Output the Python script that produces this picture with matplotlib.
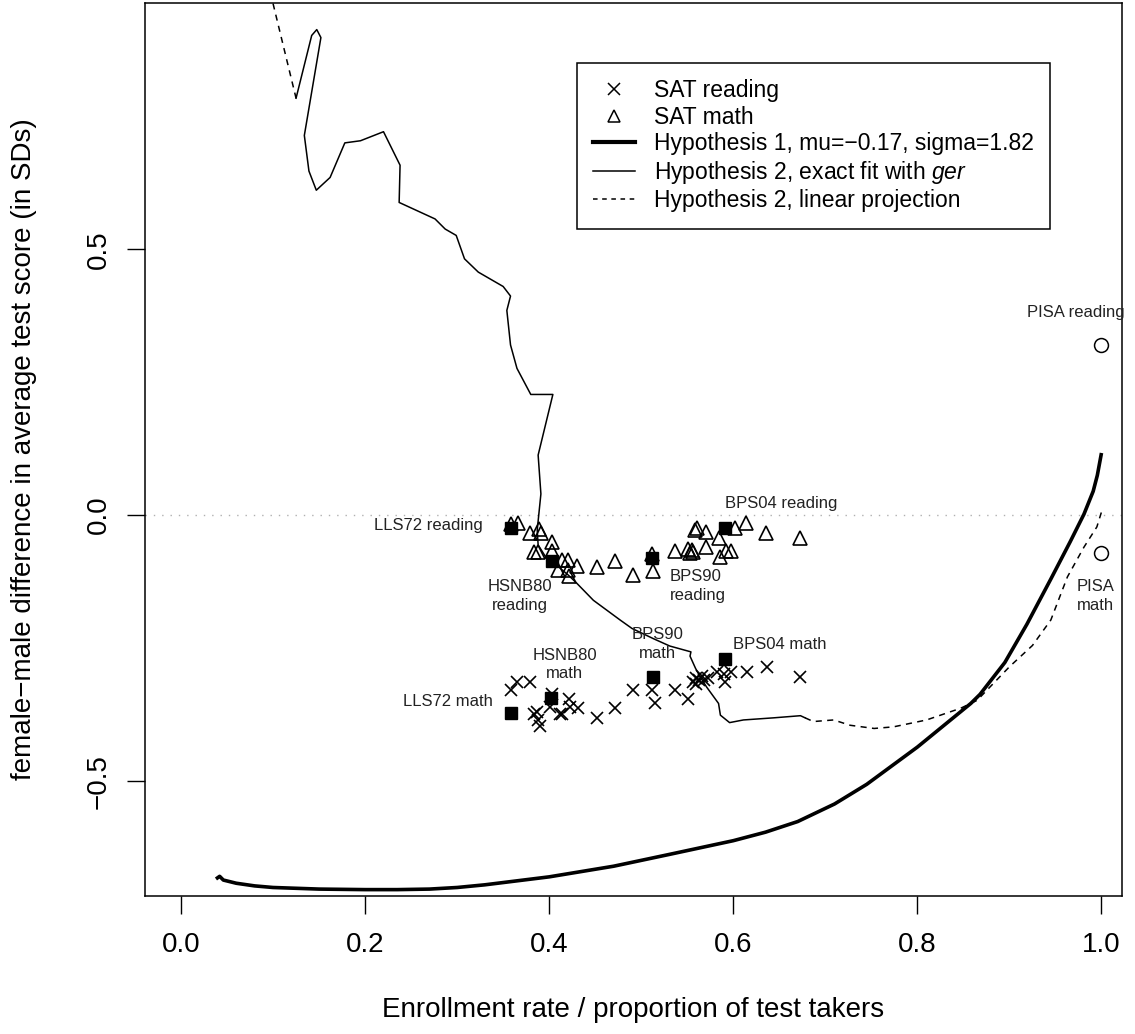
import matplotlib
matplotlib.use("Agg")
import matplotlib.pyplot as plt
from matplotlib.lines import Line2D

plt.rcParams['font.family'] = ['Liberation Sans', 'DejaVu Sans']
plt.rcParams['mathtext.fontset'] = 'custom'
plt.rcParams['mathtext.it'] = 'Liberation Sans:italic'
plt.rcParams['mathtext.rm'] = 'Liberation Sans'

# SAT math (open triangles)
tri_x = [0.359, 0.366, 0.379, 0.389, 0.391, 0.403, 0.383, 0.388, 0.403, 0.414,
         0.420, 0.430, 0.410, 0.420, 0.421, 0.452, 0.472, 0.491, 0.512, 0.513,
         0.537, 0.551, 0.555, 0.556, 0.553, 0.570, 0.558, 0.561, 0.570, 0.584,
         0.586, 0.592, 0.597, 0.602, 0.614, 0.636, 0.673]
tri_y = [-0.016, -0.015, -0.034, -0.026, -0.034, -0.051, -0.070, -0.070, -0.068, -0.085,
         -0.085, -0.096, -0.103, -0.103, -0.115, -0.098, -0.086, -0.113, -0.073, -0.105,
         -0.068, -0.063, -0.066, -0.070, -0.072, -0.060, -0.028, -0.024, -0.031, -0.043,
         -0.078, -0.068, -0.068, -0.025, -0.014, -0.033, -0.042]

# SAT reading (crosses)
crs_x = [0.358, 0.365, 0.379, 0.383, 0.387, 0.388, 0.390, 0.401, 0.403, 0.421,
         0.412, 0.414, 0.423, 0.431, 0.452, 0.472, 0.491, 0.512, 0.515, 0.537,
         0.551, 0.556, 0.560, 0.563, 0.566, 0.568, 0.572, 0.560, 0.582, 0.590,
         0.591, 0.598, 0.615, 0.637, 0.673]
crs_y = [-0.329, -0.313, -0.313, -0.373, -0.370, -0.385, -0.397, -0.360, -0.336, -0.346,
         -0.373, -0.373, -0.360, -0.363, -0.382, -0.363, -0.329, -0.329, -0.354, -0.329,
         -0.346, -0.313, -0.306, -0.310, -0.303, -0.309, -0.306, -0.318, -0.294, -0.298,
         -0.313, -0.294, -0.294, -0.285, -0.304]

# survey points (filled squares)
sq_x = [0.359, 0.403, 0.512, 0.591, 0.359, 0.402, 0.513, 0.591]
sq_y = [-0.024, -0.086, -0.081, -0.024, -0.372, -0.343, -0.305, -0.270]

# PISA (open circles)
pisa_x = [1.0, 1.0]
pisa_y = [0.320, -0.071]

# Hypothesis 1
h1_x = [0.038, 0.042, 0.046, 0.060, 0.080, 0.100, 0.150, 0.200, 0.235, 0.270,
        0.300, 0.330, 0.400, 0.470, 0.530, 0.600, 0.635, 0.670, 0.710, 0.745,
        0.800, 0.858, 0.868, 0.895, 0.919, 0.945, 0.966, 0.981, 0.991, 0.9955,
        1.000]
h1_y = [-0.684, -0.679, -0.686, -0.692, -0.697, -0.700, -0.703, -0.704, -0.704, -0.703,
        -0.700, -0.695, -0.680, -0.660, -0.638, -0.612, -0.596, -0.576, -0.543, -0.506,
        -0.436, -0.354, -0.337, -0.277, -0.205, -0.120, -0.050, 0.002, 0.045, 0.075,
        0.117]

# Hypothesis 2, exact fit
h2_x = [0.125, 0.142, 0.1475, 0.152, 0.134, 0.139, 0.147, 0.162, 0.178, 0.195,
        0.220, 0.238, 0.237, 0.276, 0.287, 0.299, 0.308, 0.323, 0.350, 0.358,
        0.354, 0.358, 0.365, 0.380, 0.404, 0.388, 0.391, 0.387, 0.388, 0.396,
        0.408, 0.421, 0.430, 0.448, 0.477, 0.490, 0.513, 0.531, 0.554, 0.553,
        0.559, 0.564, 0.571, 0.584, 0.586, 0.596, 0.611, 0.644, 0.673, 0.678]
h2_y = [0.784, 0.902, 0.913, 0.898, 0.714, 0.647, 0.611, 0.635, 0.700, 0.704,
        0.721, 0.658, 0.588, 0.557, 0.538, 0.526, 0.482, 0.457, 0.430, 0.412,
        0.385, 0.320, 0.276, 0.227, 0.227, 0.113, 0.040, -0.028, -0.056, -0.078,
        -0.094, -0.113, -0.128, -0.160, -0.197, -0.213, -0.232, -0.246, -0.257, -0.265,
        -0.288, -0.304, -0.323, -0.354, -0.376, -0.390, -0.385, -0.381, -0.377, -0.381]

# Hypothesis 2, linear projection (two pieces)
p1_x = [0.100, 0.125]
p1_y = [0.962, 0.784]
p2_x = [0.678, 0.687, 0.709, 0.727, 0.753, 0.774, 0.810, 0.847, 0.865, 0.900,
        0.925, 0.945, 0.963, 0.981, 0.995, 1.000]
p2_y = [-0.381, -0.388, -0.385, -0.395, -0.401, -0.398, -0.385, -0.363, -0.348, -0.285,
        -0.245, -0.197, -0.116, -0.060, -0.022, 0.006]

# labels: text, x, y, alignment
lab_text = ["LLS72 reading", "HSNB80\nreading", "BPS90\nreading", "BPS04 reading",
            "LLS72 math", "HSNB80\nmath", "BPS90\nmath", "BPS04 math",
            "PISA reading", "PISA\nmath"]
lab_x = [0.328, 0.368, 0.531, 0.591, 0.339, 0.417, 0.518, 0.600, 0.972, 0.994]
lab_y = [-0.019, -0.152, -0.133, 0.022, -0.351, -0.281, -0.242, -0.243, 0.382, -0.152]
lab_ha = ["right", "center", "left", "left", "right", "center", "center", "left",
          "center", "center"]

fig = plt.figure(figsize=(11.35, 10.34), dpi=100)
ax = fig.add_axes([145 / 1135, 1 - 896 / 1034, 977 / 1135, 893 / 1034])

ax.axhline(0, color='#b0b0b0', lw=1, ls=(0, (1, 5)), zorder=1)

ax.plot(h1_x, h1_y, color='k', lw=2.6, solid_capstyle='butt', zorder=2)
ax.plot(h2_x, h2_y, color='k', lw=1.1, zorder=2)
ax.plot(p1_x, p1_y, color='k', lw=1.1, ls=(0, (4, 3.5)), zorder=2)
ax.plot(p2_x, p2_y, color='k', lw=1.1, ls=(0, (4, 3.5)), zorder=2)

ax.plot(crs_x, crs_y, ls='none', marker='x', ms=9, mew=1.2, color='k', zorder=3)
ax.plot(tri_x, tri_y, ls='none', marker='^', ms=10, mew=1.2, mfc='none', mec='k', zorder=3)
ax.plot(sq_x, sq_y, ls='none', marker='s', ms=9, color='k', zorder=4)
ax.plot(pisa_x, pisa_y, ls='none', marker='o', ms=10, mew=1.1, mfc='none', mec='k', zorder=3)

for t, x, y, ha in zip(lab_text, lab_x, lab_y, lab_ha):
    ax.text(x, y, t, ha=ha, va='center', fontsize=12, color='#222222',
            linespacing=1.3, zorder=5)

ax.set_xlim(-0.0391, 1.0223)
ax.set_ylim(-0.716, 0.963)
ax.set_xticks([0.0, 0.2, 0.4, 0.6, 0.8, 1.0])
ax.set_yticks([-0.5, 0.0, 0.5])
ax.set_yticklabels(['\u22120.5', '0.0', '0.5'], rotation=90, va='center')
ax.tick_params(axis='both', direction='out', length=13, width=1, labelsize=20)
ax.tick_params(axis='x', pad=13)
ax.tick_params(axis='y', pad=11)
for s in ax.spines.values():
    s.set_linewidth(1.1)

ax.set_xlabel('Enrollment rate / proportion of test takers', fontsize=20, va='center')
ax.xaxis.set_label_coords(0.5, -0.1277)
ax.set_ylabel('female\u2212male difference in average test score (in SDs)',
              fontsize=20, va='center')
ax.yaxis.set_label_coords(-0.1239, 0.5)

handles = [
    Line2D([], [], ls='none', marker='x', ms=8, mew=1.1, color='k'),
    Line2D([], [], ls='none', marker='^', ms=9, mew=1.1, mfc='none', mec='k'),
    Line2D([], [], color='k', lw=3),
    Line2D([], [], color='k', lw=1.1),
    Line2D([], [], color='k', lw=1.1, ls=(0, (3, 3))),
]
labels = ['SAT reading', 'SAT math', 'Hypothesis 1, mu=\u22120.17, sigma=1.82',
          'Hypothesis 2, exact fit with $\\it{ger}$', 'Hypothesis 2, linear projection']
leg = ax.legend(handles, labels, loc='upper left', bbox_to_anchor=(0.442, 0.933),
                borderaxespad=0, fontsize=16.5, frameon=True, fancybox=False,
                edgecolor='k', framealpha=1, borderpad=0.72, handlelength=1.8,
                handletextpad=0.85, labelspacing=0.15)
leg.get_frame().set_linewidth(1.1)

fig.savefig('out.png', dpi=100)
